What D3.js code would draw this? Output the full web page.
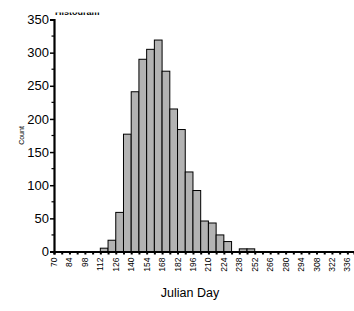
<!DOCTYPE html>
<html>
<head>
<meta charset="utf-8">
<script src="https://cdn.jsdelivr.net/npm/d3@7"></script>
<style>
  body { margin: 0; background: #fff; }
  svg { font-family: "Liberation Sans", Arial, sans-serif; }
</style>
</head>
<body>
<div id="chart"></div>
<script>
// bin starts (Julian day), 7-day bins
const binStarts = d3.range(70, 343, 7);
// counts, keyed by bin start
const countDays = [112, 119, 126, 133, 140, 147, 154, 161, 168, 175, 182, 189, 196, 203, 210, 217, 224, 238, 245];
const countVals = [5, 17, 59, 177, 241, 290, 305, 319, 272, 215, 184, 120, 92, 46, 43, 25, 15, 4, 4];
const xTickLabels = d3.range(70, 337, 14);
const yTicks = [0, 50, 100, 150, 200, 250, 300, 350];

const width = 354, height = 311;
const margin = { left: 54, right: 0, top: 19.5, bottom: 59.5 };

const bins = binStarts.map(b => {
  const i = countDays.indexOf(b);
  return { x0: b, x1: b + 7, count: i >= 0 ? countVals[i] : 0 };
});

const svg = d3.select("#chart")
  .append("svg")
    .attr("width", width)
    .attr("height", height);

const xScale = d3.scaleLinear()
  .domain([70, 342])
  .range([margin.left, 354]);

const yScale = d3.scaleLinear()
  .domain([0, 350])
  .range([height - margin.bottom, margin.top]);

// clipped title at the very top
svg.append("clipPath").attr("id", "tclip")
  .append("rect").attr("x", 0).attr("y", 12.5).attr("width", 200).attr("height", 2.5);
svg.append("text")
  .attr("clip-path", "url(#tclip)")
  .attr("x", 55).attr("y", 14.5)
  .attr("font-size", 9)
  .attr("font-weight", "bold")
  .text("Histogram");

/*    bars    */
svg.append("g")
  .selectAll("rect")
  .data(bins.filter(d => d.count > 0))
  .join("rect")
    .attr("x", d => xScale(d.x0))
    .attr("y", d => yScale(d.count))
    .attr("width", d => xScale(d.x1) - xScale(d.x0))
    .attr("height", d => yScale(0) - yScale(d.count))
    .attr("fill", "#b3b3b3")
    .attr("stroke", "#000")
    .attr("stroke-width", 1);

/*    y axis    */
const yAxis = svg.append("g")
  .attr("transform", `translate(${margin.left},0)`)
  .call(d3.axisLeft(yScale).tickValues(yTicks).tickSize(4).tickPadding(1));
yAxis.select(".domain").attr("stroke-width", 2.2);
yAxis.selectAll(".tick line").attr("stroke-width", 1.5);
yAxis.selectAll(".tick text")
  .attr("font-size", 13)
  .attr("font-family", "Liberation Sans, Arial, sans-serif")
  .attr("fill", "#000");

svg.append("g")
  .attr("transform", `translate(${margin.left},0)`)
  .selectAll("line")
  .data(d3.range(25, 350, 50))
  .join("line")
    .attr("x1", -2.5).attr("x2", 0)
    .attr("y1", d => yScale(d)).attr("y2", d => yScale(d))
    .attr("stroke", "#000").attr("stroke-width", 1.2);

/*    x axis    */
const xAxis = svg.append("g")
  .attr("transform", `translate(0,${yScale(0)})`)
  .call(d3.axisBottom(xScale).tickValues(binStarts).tickSize(3).tickFormat(""));
xAxis.select(".domain").attr("stroke-width", 2.2);
xAxis.selectAll(".tick line").attr("stroke-width", 2);

svg.append("g")
  .selectAll("text")
  .data(xTickLabels)
  .join("text")
    .attr("transform", d => `translate(${xScale(d) + 3},${yScale(0) + 6}) rotate(-90)`)
    .attr("text-anchor", "end")
    .attr("font-size", 8.5)
    .text(d => d);

/*    axis titles    */
svg.append("text")
  .attr("transform", `translate(24,${(yScale(0) + yScale(350)) / 2}) rotate(-90)`)
  .attr("text-anchor", "middle")
  .attr("font-size", 7)
  .text("Count");

svg.append("text")
  .attr("x", 190)
  .attr("y", 297)
  .attr("text-anchor", "middle")
  .attr("font-size", 12.5)
  .text("Julian Day");
</script>
</body>
</html>
